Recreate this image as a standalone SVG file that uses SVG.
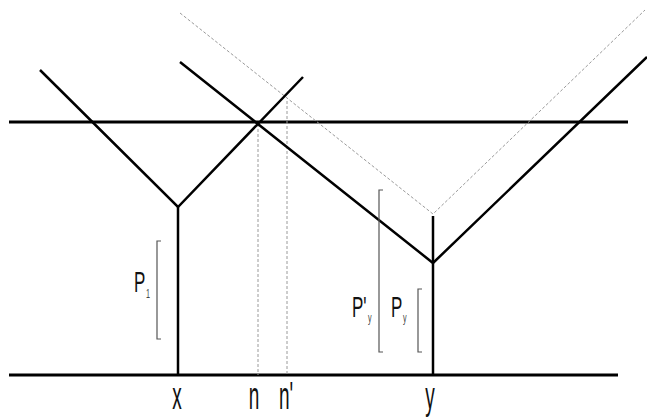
<svg xmlns="http://www.w3.org/2000/svg" width="647" height="418" viewBox="0 0 647 418">
  <style>
    .base { stroke: #000; stroke-width: 3; fill: none; }
    .thick { stroke: #000; stroke-width: 2.5; fill: none; stroke-linejoin: miter; }
    .ghost { stroke: #9a9a9a; stroke-width: 1; fill: none; stroke-dasharray: 3 2; }
    .bracket { stroke: #555; stroke-width: 1.2; fill: none; }
    .lbl { font-family: "Liberation Sans", Arial, sans-serif; font-size: 20px; fill: #111; }
    .sub { font-family: "Liberation Sans", Arial, sans-serif; font-size: 9px; fill: #444; }
  </style>
  <rect width="647" height="418" fill="#fff"/>

  <g id="connectors">
    <!-- the two horizontal rails -->
    <line class="base" x1="9" y1="122" x2="628" y2="122"/>
    <line class="base" x1="9" y1="375" x2="618" y2="375"/>
    <!-- shifted (ghost) V above y -->
    <polyline class="ghost" points="180,13 433,214 645,10"/>
    <!-- projection lines for n and n' -->
    <line class="ghost" x1="258" y1="124" x2="258" y2="375"/>
    <line class="ghost" x1="287" y1="101" x2="287" y2="375"/>
  </g>

  <g id="node-x">
    <polyline class="thick" points="40,70 178,207 303,77"/>
    <line class="thick" x1="178" y1="207" x2="178" y2="375"/>
    <text class="lbl" transform="translate(177,409) scale(0.95,1.9)" text-anchor="middle">x</text>
  </g>

  <g id="node-y">
    <polyline class="thick" points="180,62 433,263 647,57"/>
    <line class="thick" x1="433" y1="216" x2="433" y2="375"/>
    <text class="lbl" transform="translate(430,409) scale(0.95,1.9)" text-anchor="middle">y</text>
  </g>

  <g id="label-n">
    <text class="lbl" transform="translate(254,409) scale(0.95,1.9)" text-anchor="middle">n</text>
    <text class="lbl" transform="translate(279,409) scale(0.95,1.9)">n'</text>
  </g>

  <g id="bracket-p1">
    <path class="bracket" d="M161,241 H157 V339 H161"/>
    <text class="lbl" transform="translate(134,292) scale(0.85,1.45)">P</text>
    <text class="sub" transform="translate(146,298) scale(0.8,1.4)">1</text>
  </g>

  <g id="bracket-ppy">
    <path class="bracket" d="M383,190 H379 V352 H383"/>
    <text class="lbl" transform="translate(352,317) scale(0.85,1.45)">P'</text>
    <text class="sub" transform="translate(368,322) scale(0.8,1.4)">y</text>
  </g>

  <g id="bracket-py">
    <path class="bracket" d="M422,289 H418 V352 H422"/>
    <text class="lbl" transform="translate(391,317) scale(0.85,1.45)">P</text>
    <text class="sub" transform="translate(403,322) scale(0.8,1.4)">y</text>
  </g>
</svg>
